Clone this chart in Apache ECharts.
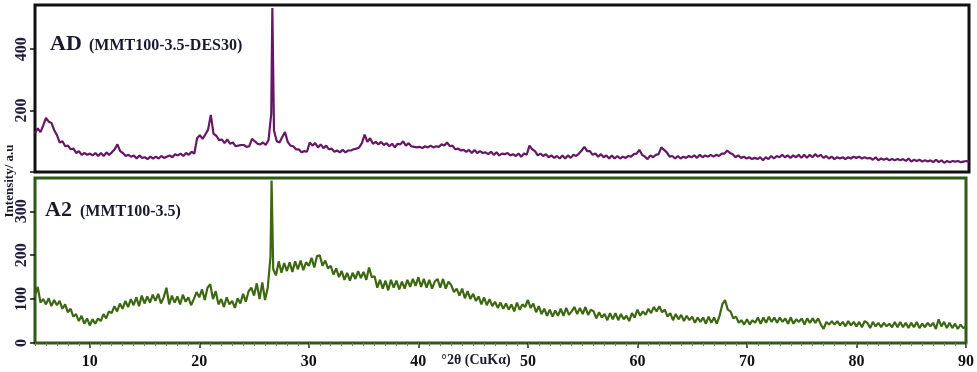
<!DOCTYPE html>
<html>
<head>
<meta charset="utf-8">
<script src="https://cdn.jsdelivr.net/npm/echarts@6/dist/echarts.min.js"></script>
<style>
html,body{margin:0;padding:0;background:#fff;}
#chart{width:977px;height:372px;}
</style>
</head>
<body>
<div id="chart"></div>
<script>
// 2θ positions (degrees)
const twoTheta = [
5,5.25,5.5,5.75, 6,6.25,6.5,6.75, 7,7.25,7.5,7.75, 8,8.25,8.5,8.75, 9,9.25,9.5,9.75,
10,10.25,10.5,10.75, 11,11.25,11.5,11.75, 12,12.25,12.5,12.75, 13,13.25,13.5,13.75, 14,14.25,14.5,14.75,
15,15.25,15.5,15.75, 16,16.25,16.5,16.75, 17,17.25,17.5,17.75, 18,18.25,18.5,18.75, 19,19.25,19.5,19.75,
20,20.25,20.5,20.75, 21,21.25,21.5,21.75, 22,22.25,22.5,22.75, 23,23.25,23.5,23.75, 24,24.25,24.5,24.75,
25,25.25,25.5,25.75, 26,26.25,26.5,26.6,26.75, 27,27.25,27.5,27.75, 28,28.25,28.5,28.75, 29,29.25,29.5,29.75,
30,30.25,30.5,30.75, 31,31.25,31.5,31.75, 32,32.25,32.5,32.75, 33,33.25,33.5,33.75, 34,34.25,34.5,34.75,
35,35.25,35.5,35.75, 36,36.25,36.5,36.75, 37,37.25,37.5,37.75, 38,38.25,38.5,38.75, 39,39.25,39.5,39.75,
40,40.25,40.5,40.75, 41,41.25,41.5,41.75, 42,42.25,42.5,42.75, 43,43.25,43.5,43.75, 44,44.25,44.5,44.75,
45,45.25,45.5,45.75, 46,46.25,46.5,46.75, 47,47.25,47.5,47.75, 48,48.25,48.5,48.75, 49,49.25,49.5,49.75,
50,50.25,50.5,50.75, 51,51.25,51.5,51.75, 52,52.25,52.5,52.75, 53,53.25,53.5,53.75, 54,54.25,54.5,54.75,
55,55.25,55.5,55.75, 56,56.25,56.5,56.75, 57,57.25,57.5,57.75, 58,58.25,58.5,58.75, 59,59.25,59.5,59.75,
60,60.25,60.5,60.75, 61,61.25,61.5,61.75, 62,62.25,62.5,62.75, 63,63.25,63.5,63.75, 64,64.25,64.5,64.75,
65,65.25,65.5,65.75, 66,66.25,66.5,66.75, 67,67.25,67.5,67.75, 68,68.25,68.5,68.75, 69,69.25,69.5,69.75,
70,70.25,70.5,70.75, 71,71.25,71.5,71.75, 72,72.25,72.5,72.75, 73,73.25,73.5,73.75, 74,74.25,74.5,74.75,
75,75.25,75.5,75.75, 76,76.25,76.5,76.75, 77,77.25,77.5,77.75, 78,78.25,78.5,78.75, 79,79.25,79.5,79.75,
80,80.25,80.5,80.75, 81,81.25,81.5,81.75, 82,82.25,82.5,82.75, 83,83.25,83.5,83.75, 84,84.25,84.5,84.75,
85,85.25,85.5,85.75, 86,86.25,86.5,86.75, 87,87.25,87.5,87.75, 88,88.25,88.5,88.75, 89,89.25,89.5,89.75,
90
];

// AD (MMT100-3.5-DES30) intensities
const adIntensity = [
126,142,130,152, 176,164,160,136, 120,96,100,84, 86,74,76,62, 68,56,62,56,
60,54,62,52, 62,52,64,56, 64,74,90,68, 62,52,56,50, 54,44,54,46,
48,42,50,44, 50,44,52,46, 50,54,48,58, 54,60,52,62, 56,66,60,110,
120,108,122,138, 186,124,118,104, 106,94,106,92, 96,84,86,88, 88,82,84,108,
100,92,90,96, 88,104,190,534,135, 100,96,114,130, 98,86,84,74, 74,64,68,66,
96,86,94,80, 90,78,86,74, 76,66,70,64, 72,64,70,70, 74,76,80,94,
122,98,110,92, 98,90,98,88, 94,84,92,80, 92,90,100,86, 94,84,82,80,
82,78,84,80, 86,80,84,82, 90,86,96,84, 86,74,76,70, 72,66,72,62,
72,62,68,62, 64,58,66,56, 64,54,60,58, 62,54,58,52, 60,50,60,56,
86,74,68,54, 60,52,58,48, 54,46,52,44, 54,44,54,46, 56,52,60,70,
82,68,68,56, 60,50,58,48, 54,44,54,44, 52,44,50,46, 52,50,58,60,
72,56,50,42, 54,48,56,58, 80,72,64,50, 52,44,52,44, 50,46,52,48,
54,46,56,48, 54,50,56,50, 56,52,60,60, 70,62,58,48, 54,46,50,44,
48,42,46,42, 48,38,48,42, 52,44,52,48, 56,48,54,46, 54,48,56,46,
56,46,56,48, 58,50,56,46, 52,44,50,42, 48,44,48,42, 48,44,50,46,
50,44,48,44, 46,40,48,38, 44,40,44,38, 42,38,42,38, 42,36,44,34,
40,36,40,34, 38,34,38,32, 40,32,38,30, 36,32,36,34, 36,32,34,36,
34
];

// A2 (MMT100-3.5) intensities
const a2Intensity = [
108,128,92,100, 88,102,84,98, 86,96,78,88, 70,78,60,66, 50,62,44,56,
40,54,44,56, 50,66,56,72, 68,84,72,90, 78,96,82,100, 86,104,84,108,
90,106,92,110, 96,112,90,104, 126,88,108,92, 106,88,110,94, 104,86,100,116,
104,122,98,126, 134,100,118,88, 100,82,104,88, 96,80,102,90, 112,94,118,126,
108,136,100,138, 98,126,196,370,168, 154,186,160,182, 164,184,162,186, 168,188,166,184,
176,194,172,198, 200,176,188,170, 176,156,170,150, 164,144,160,142, 160,146,164,148,
162,144,172,150, 152,126,144,124, 142,120,144,126, 142,122,140,124, 144,128,146,130,
150,128,146,126, 144,124,140,146, 126,146,124,140, 132,116,124,108, 124,102,118,100,
112,96,106,88, 104,86,100,84, 94,80,92,78, 90,76,88,72, 92,76,88,82,
98,80,90,70, 84,66,78,62, 76,60,74,62, 78,62,80,64, 72,82,66,80,
66,82,64,76, 72,56,70,58, 66,52,68,54, 68,52,66,54, 62,50,68,58,
76,62,72,64, 78,68,82,72, 84,70,76,60, 68,52,66,54, 64,50,62,52,
60,46,58,48, 58,44,60,46, 58,44,62,88, 98,76,72,56, 60,46,52,42,
54,42,52,46, 58,44,58,46, 60,48,58,46, 58,48,56,44, 58,44,54,48,
56,42,56,46, 56,46,56,42, 32,48,42,50, 42,50,40,48, 38,50,40,48,
38,48,36,50, 46,34,48,38, 46,36,46,38, 44,36,48,36, 48,36,46,34,
46,36,48,34, 44,36,46,38, 46,32,54,38, 48,34,46,34, 44,32,42,34,
38
];

const xTickLabels = [10, 20, 30, 40, 50, 60, 70, 80, 90];
const adTickLabels = [200, 400];
const adTicks = [0, 200, 400];
const a2TickLabels = [0, 100, 200, 300];

const serif = '"Liberation Serif", "DejaVu Serif", serif';
const adData = twoTheta.map((x, i) => [x, adIntensity[i]]);
const a2Data = twoTheta.map((x, i) => [x, a2Intensity[i]]);

const chart = echarts.init(document.getElementById('chart'), null, {renderer: 'canvas'});

const yLabel = {
  rotate: 90, fontFamily: serif, fontWeight: 'bold', fontSize: 16, color: '#1e1e3c', margin: 5
};

chart.setOption({
  animation: false,
  backgroundColor: '#fff',
  grid: [
    {left: 35, top: 5, width: 934, height: 167, show: true, borderColor: '#111', borderWidth: 3, backgroundColor: 'transparent'},
    {left: 35, top: 178, width: 934, height: 165, show: true, borderColor: '#2e5a14', borderWidth: 3, backgroundColor: 'transparent'}
  ],
  xAxis: [
    {gridIndex: 0, type: 'value', min: 5, max: 90, axisLine: {show: false}, axisTick: {show: false},
     axisLabel: {show: false}, splitLine: {show: false}},
    {gridIndex: 1, type: 'value', position: 'bottom', min: 5, max: 90,
     axisLine: {show: false},
     axisTick: {show: true, customValues: xTickLabels, length: 5, lineStyle: {color: '#222', width: 1.5}},
     axisLabel: {customValues: xTickLabels, fontFamily: serif, fontWeight: 'bold', fontSize: 16, color: '#111', margin: 11},
     splitLine: {show: false}},
    {gridIndex: 1, type: 'value', position: 'bottom', min: 5, max: 90, interval: 1,
     axisLine: {show: false},
     axisTick: {show: true, length: 3, lineStyle: {color: '#777', width: 1}},
     axisLabel: {show: false}, splitLine: {show: false}}
  ],
  yAxis: [
    {gridIndex: 0, type: 'value', min: 0, max: 544,
     axisLine: {show: false},
     axisTick: {show: true, customValues: adTicks, length: 5, lineStyle: {color: '#111', width: 1.5}},
     axisLabel: Object.assign({customValues: adTickLabels}, yLabel),
     splitLine: {show: false}},
    {gridIndex: 1, type: 'value', min: 0, max: 376,
     axisLine: {show: false},
     axisTick: {show: true, customValues: a2TickLabels, length: 5, lineStyle: {color: '#111', width: 1.5}},
     axisLabel: Object.assign({customValues: a2TickLabels}, yLabel),
     splitLine: {show: false}}
  ],
  series: [
    {type: 'line', xAxisIndex: 0, yAxisIndex: 0, data: adData, showSymbol: false, symbol: 'none',
     lineStyle: {color: '#651866', width: 2.2}},
    {type: 'line', xAxisIndex: 1, yAxisIndex: 1, data: a2Data, showSymbol: false, symbol: 'none',
     lineStyle: {color: '#3d6812', width: 2.2}}
  ],
  graphic: [
    {type: 'text', left: 50, top: 33, style: {text: 'AD', font: 'bold 22px ' + serif, fill: '#1a1a2e'}},
    {type: 'text', left: 89, top: 38, style: {text: '(MMT100-3.5-DES30)', font: 'bold 16px ' + serif, fill: '#1a1a2e'}},
    {type: 'text', left: 45, top: 199, style: {text: 'A2', font: 'bold 22px ' + serif, fill: '#1a1a2e'}},
    {type: 'text', left: 80, top: 204, style: {text: '(MMT100-3.5)', font: 'bold 16px ' + serif, fill: '#1a1a2e'}},
    {type: 'text', x: 10, y: 181, rotation: Math.PI / 2,
     style: {text: 'Intensity/ a.u', font: 'bold 13px ' + serif, fill: '#1a1a2e', align: 'center', verticalAlign: 'middle'}},
    {type: 'text', x: 476, y: 360,
     style: {text: '°2θ (CuKα)', font: 'bold 14px ' + serif, fill: '#1a1a2e', align: 'center', verticalAlign: 'middle'}}
  ]
});
</script>
</body>
</html>
